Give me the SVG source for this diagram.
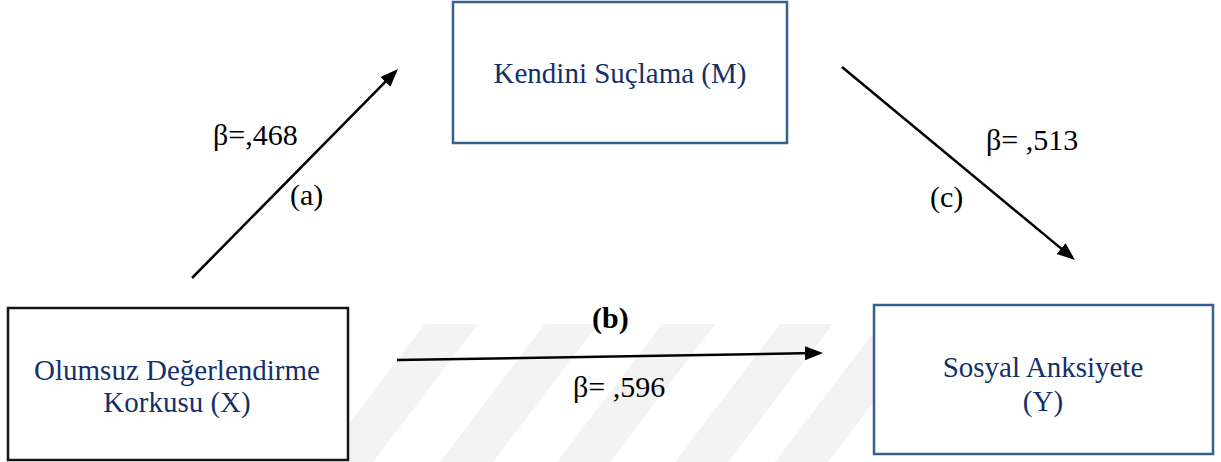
<svg xmlns="http://www.w3.org/2000/svg" width="1221" height="462" viewBox="0 0 1221 462">
<style>
.box{fill:#fff;stroke-width:2.5}
.blue{stroke:#34608f}
.dark{stroke:#151515}
.nt{font-family:"Liberation Serif","Times New Roman",serif;font-size:29px;fill:#14306a;text-anchor:middle}
.lb{font-family:"Liberation Serif","Times New Roman",serif;font-size:30px;fill:#000}
.conn{stroke:#000;stroke-width:2.5;fill:none;marker-end:url(#ah)}
.wm{fill:#f3f3f3}
</style>
<defs>
<marker id="ah" markerUnits="userSpaceOnUse" markerWidth="20" markerHeight="16" refX="10" refY="7" orient="auto">
<path d="M0,0 L18,7 L0,14 Z" fill="#000"/>
</marker>
</defs>
<rect width="1221" height="462" fill="#fff"/>
<g id="watermark">
<polygon class="wm" points="425,324 478,324 373,462 320,462"/>
<polygon class="wm" points="545,324 598,324 493,462 440,462"/>
<polygon class="wm" points="662,324 715,324 610,462 557,462"/>
<polygon class="wm" points="780,324 833,324 728,462 675,462"/>
<polygon class="wm" points="880,324 933,324 828,462 775,462"/>
</g>
<g id="node-m">
<rect class="box blue" x="453" y="2" width="334" height="141"/>
<text class="nt" x="620" y="83">Kendini Suçlama (M)</text>
</g>
<g id="node-x">
<rect class="box dark" x="8" y="308" width="340" height="152"/>
<text class="nt" x="177" y="380">Olumsuz Değerlendirme</text>
<text class="nt" x="177" y="412">Korkusu (X)</text>
</g>
<g id="node-y">
<rect class="box blue" x="874" y="305" width="339" height="149"/>
<text class="nt" x="1043" y="377">Sosyal Anksiyete</text>
<text class="nt" x="1043" y="411">(Y)</text>
</g>
<g id="connectors">
<line class="conn" x1="192" y1="278" x2="392.4" y2="74.7"/>
<line class="conn" x1="842" y1="67" x2="1068.8" y2="254.9"/>
<line class="conn" x1="397" y1="360" x2="815" y2="353.1"/>
</g>
<g id="labels">
<text class="lb" x="213" y="145">β=,468</text>
<text class="lb" x="290" y="205">(a)</text>
<text class="lb" x="986" y="150">β= ,513</text>
<text class="lb" x="930" y="207">(c)</text>
<text class="lb" x="592" y="328" font-weight="bold">(b)</text>
<text class="lb" x="573" y="397">β= ,596</text>
</g>
</svg>
